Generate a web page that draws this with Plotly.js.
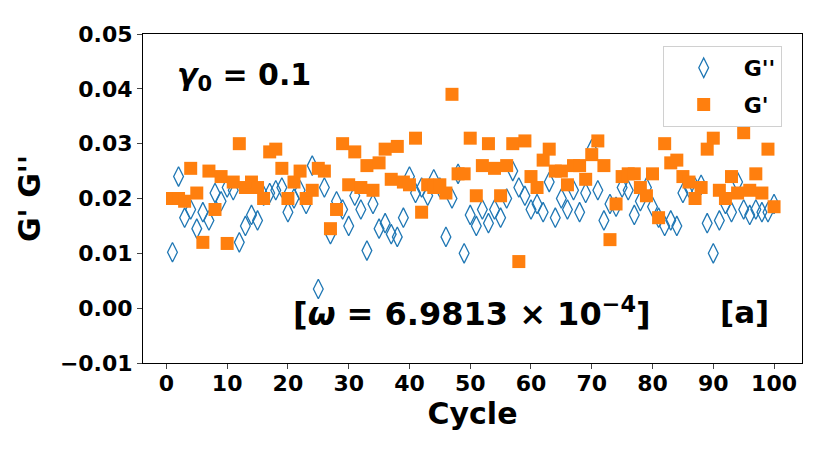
<!DOCTYPE html>
<html><head><meta charset="utf-8">
<script src="https://cdn.plot.ly/plotly-3.0.1.min.js"></script>
<style>html,body{margin:0;padding:0;background:#fff}#c{width:830px;height:453px}</style>
</head><body><div id="c"></div>
<script>
var cycles = [];
for (var i = 1; i <= 100; i++) cycles.push(i);

var gDoublePrime = [0.0102,0.024,0.0165,0.018,0.0145,0.0175,0.016,0.021,0.0195,0.022,
0.0215,0.012,0.015,0.017,0.016,0.0205,0.021,0.0215,0.022,0.0175,
0.020,0.0215,0.019,0.026,0.0035,0.022,0.0135,0.0195,0.018,0.015,
0.0205,0.018,0.0105,0.019,0.0145,0.0155,0.0135,0.013,0.0165,0.024,
0.021,0.022,0.0205,0.0235,0.022,0.013,0.020,0.0245,0.010,0.017,
0.015,0.018,0.0155,0.018,0.0165,0.020,0.025,0.022,0.0205,0.018,
0.019,0.0175,0.023,0.0165,0.020,0.018,0.0215,0.0175,0.021,0.029,
0.0215,0.016,0.019,0.0185,0.022,0.0215,0.017,0.0195,0.022,0.0185,
0.0165,0.015,0.016,0.015,0.021,0.022,0.022,0.0225,0.0155,0.010,
0.016,0.019,0.0175,0.023,0.018,0.017,0.018,0.0175,0.0175,0.019];

var gPrime = [0.020,0.020,0.0195,0.0255,0.021,0.012,0.025,0.018,0.024,0.0118,
0.023,0.030,0.022,0.023,0.022,0.020,0.0285,0.029,0.0255,0.020,
0.023,0.025,0.020,0.0215,0.0255,0.025,0.0145,0.018,0.030,0.0225,
0.0285,0.022,0.026,0.0215,0.0265,0.029,0.0235,0.0295,0.023,0.0225,
0.031,0.0175,0.0225,0.022,0.0225,0.021,0.039,0.0245,0.0245,0.031,
0.0205,0.026,0.030,0.0255,0.0205,0.026,0.030,0.0085,0.0305,0.024,
0.022,0.027,0.029,0.025,0.025,0.0225,0.026,0.026,0.0235,0.028,
0.0305,0.026,0.0125,0.019,0.024,0.0245,0.0245,0.022,0.0205,0.0245,
0.0165,0.030,0.0265,0.027,0.024,0.023,0.020,0.022,0.029,0.031,
0.0215,0.020,0.024,0.021,0.032,0.0215,0.0245,0.021,0.029,0.0185];

var xTicks = [0,10,20,30,40,50,60,70,80,90,100];
var yTicks = [-0.01,0.00,0.01,0.02,0.03,0.04,0.05];
var yTickText = ['\u22120.01','0.00','0.01','0.02','0.03','0.04','0.05'];

var F = 'DejaVu Sans, sans-serif';
var traces = [
 {x: cycles, y: gDoublePrime, mode:'markers', type:'scatter', name:"G''", legendgroup:'a',
  marker:{symbol:'diamond-tall-open', size:14, color:'#1f77b4', line:{width:1.3, color:'#1f77b4'}}},
 {x: cycles, y: gPrime, mode:'markers', type:'scatter', name:"G'", legendgroup:'b',
  marker:{symbol:'square', size:13, color:'#ff7f0e', line:{width:0}}}
];
var layout = {
 width:830, height:453, margin:{l:143, r:28, t:34, b:90},
 paper_bgcolor:'#fff', plot_bgcolor:'#fff', showlegend:true,
 font:{family:F, color:'#000'},
 xaxis:{range:[-3.85,104.6], tickvals:xTicks, ticktext:xTicks.map(String), ticks:'outside', ticklen:5, tickwidth:1,
   ticklabelstandoff:-4,
   showgrid:false, zeroline:false, showline:true, mirror:true, linecolor:'#000', linewidth:1,
   tickfont:{family:F, size:22, weight:'bold'}, title:{text:'<b>Cycle</b>', font:{family:F, size:30}, standoff:0}},
 yaxis:{range:[-0.01,0.05], tickvals:yTicks, ticktext:yTickText, ticks:'outside', ticklen:5, tickwidth:1,
   showgrid:false, zeroline:false, showline:true, mirror:true, linecolor:'#000', linewidth:1,
   tickfont:{family:F, size:22, weight:'bold'}, title:{text:"<b>G' G''</b>", font:{family:F, size:30}, standoff:10}},
 legend:{x:0.7886, y:0.9635, xanchor:'left', yanchor:'top', bgcolor:'rgba(255,255,255,0.8)', bordercolor:'#d0d0d0', borderwidth:1,
   font:{family:F, size:22, weight:'bold'}, itemwidth:70, traceorder:'grouped', tracegroupgap:5},
 annotations:[
  {xref:'paper', yref:'paper', x:0.154, y:0.87, xanchor:'center', yanchor:'middle', showarrow:false,
   text:'<b><i>γ</i><sub>0</sub> = 0.1</b>', font:{family:F, size:30}},
  {xref:'paper', yref:'paper', x:0.4995, y:0.155, xanchor:'center', yanchor:'middle', showarrow:false,
   text:'<b>[<i>ω</i> = 6.9813 × 10<sup>−4</sup>]</b>', font:{family:F, size:32}},
  {xref:'paper', yref:'paper', x:0.913, y:0.155, xanchor:'center', yanchor:'middle', showarrow:false,
   text:'<b>[a]</b>', font:{family:F, size:31}}
 ]
};
Plotly.newPlot('c', traces, layout, {displayModeBar:false, staticPlot:true});
</script></body></html>
